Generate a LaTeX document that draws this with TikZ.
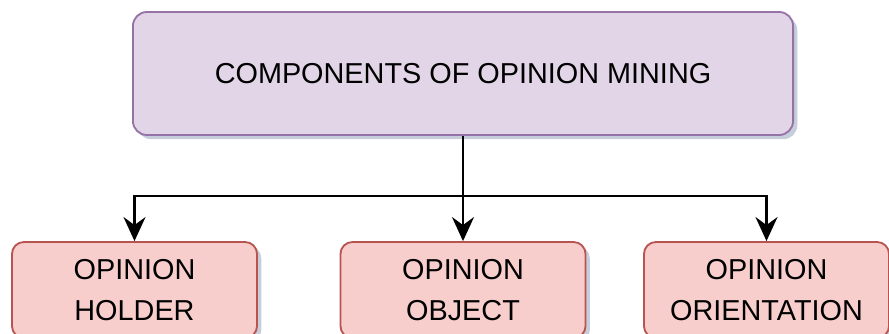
\documentclass[tikz,border=0pt]{standalone}
\usepackage{fontspec}
\setmainfont{Liberation Sans}
\usetikzlibrary{arrows.meta,shadows}
\definecolor{rootfill}{HTML}{E1D5E7}
\definecolor{rootline}{HTML}{9673A6}
\definecolor{leaffill}{HTML}{F8CECC}
\definecolor{leafline}{HTML}{B85450}
\definecolor{shade}{HTML}{8090B0}
\begin{document}
\begin{tikzpicture}[x=0.025cm, y=-0.025cm, >={Stealth[length=0.6cm, width=0.55cm, inset=0.2cm]},
	box/.style={line width=1.3pt, align=center, inner sep=0pt,
		font=\fontsize{20.5}{29}\selectfont,
		drop shadow={shadow xshift=3pt, shadow yshift=-3pt, fill=shade, opacity=0.45}},
	root/.style={box, rounded corners=0.35cm, fill=rootfill, draw=rootline, minimum width=16.5cm, minimum height=3.075cm},
	leaf/.style={box, rounded corners=0.3cm, fill=leaffill, draw=leafline, minimum width=6.125cm, minimum height=2.4cm}]
	\clip (0,0) rectangle (889,334);
	\node[root] (mining) at (463,73.5) {COMPONENTS OF OPINION MINING};
	\node[leaf] (holder) at (134.5,290) {OPINION\\HOLDER};
	\node[leaf] (object) at (463,290) {OPINION\\OBJECT};
	\node[leaf] (orientation) at (766.5,290) {OPINION\\ORIENTATION};
	\coordinate (split) at (463,196);
	\foreach \leaf in {holder,object,orientation} {
			\draw[->, line width=1.8pt] (mining.south) -- (split) -| (\leaf.north);
		}
\end{tikzpicture}
\end{document}
